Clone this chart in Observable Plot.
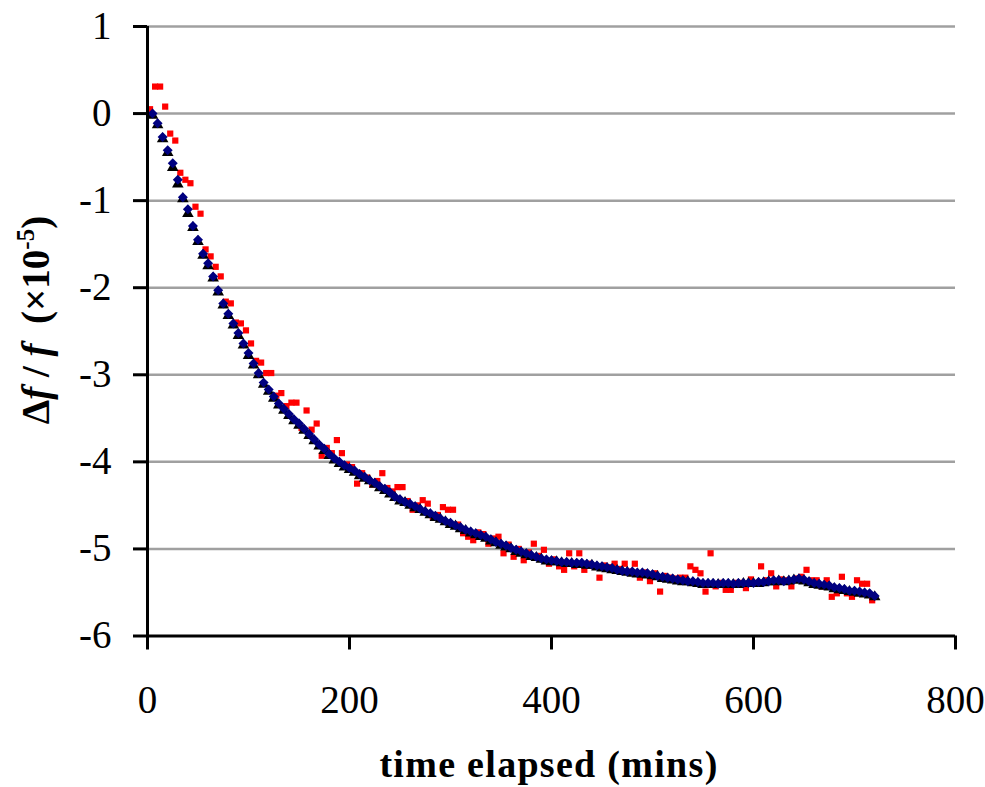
<!DOCTYPE html>
<html><head><meta charset="utf-8">
<script src="https://cdn.jsdelivr.net/npm/d3@7"></script>
<script src="https://cdn.jsdelivr.net/npm/@observablehq/plot@0.6"></script>
<style>body{margin:0;background:#fff} svg{display:block}</style>
</head><body><div id="chart"></div>
<script>
// time (mins) of the smoothed series (blue diamonds, black triangles)
const smoothTimes = d3.range(5, 721, 5);
const blueValues = [
0.00,-0.11,-0.27,-0.42,-0.57,-0.76,-0.96,-1.10,-1.29,-1.45,
-1.61,-1.72,-1.87,-2.03,-2.18,-2.30,-2.41,-2.52,-2.64,-2.75,
-2.87,-2.98,-3.09,-3.17,-3.25,-3.33,-3.39,-3.45,-3.51,-3.56,
-3.62,-3.68,-3.74,-3.80,-3.85,-3.91,-3.96,-4.00,-4.04,-4.07,
-4.10,-4.14,-4.17,-4.21,-4.24,-4.28,-4.31,-4.35,-4.40,-4.43,
-4.46,-4.48,-4.51,-4.54,-4.57,-4.59,-4.62,-4.65,-4.68,-4.70,
-4.73,-4.75,-4.78,-4.80,-4.82,-4.84,-4.86,-4.89,-4.92,-4.94,
-4.96,-4.99,-5.01,-5.03,-5.05,-5.07,-5.09,-5.11,-5.12,-5.13,
-5.14,-5.15,-5.15,-5.16,-5.16,-5.16,-5.17,-5.18,-5.19,-5.20,
-5.21,-5.22,-5.24,-5.25,-5.26,-5.26,-5.27,-5.27,-5.28,-5.29,
-5.31,-5.32,-5.33,-5.34,-5.35,-5.36,-5.37,-5.37,-5.38,-5.39,
-5.39,-5.39,-5.40,-5.39,-5.39,-5.40,-5.39,-5.39,-5.39,-5.39,
-5.38,-5.38,-5.37,-5.36,-5.36,-5.37,-5.36,-5.35,-5.34,-5.35,
-5.37,-5.39,-5.40,-5.41,-5.42,-5.44,-5.45,-5.46,-5.48,-5.48,
-5.49,-5.50,-5.51,-5.54];
const blackValues = [
-0.02,-0.13,-0.29,-0.45,-0.62,-0.81,-0.98,-1.15,-1.31,-1.47,
-1.63,-1.75,-1.89,-2.05,-2.20,-2.32,-2.43,-2.55,-2.66,-2.78,
-2.89,-3.00,-3.11,-3.19,-3.27,-3.35,-3.41,-3.47,-3.53,-3.58,
-3.64,-3.70,-3.76,-3.82,-3.87,-3.93,-3.98,-4.02,-4.06,-4.09,
-4.12,-4.16,-4.19,-4.22,-4.26,-4.30,-4.33,-4.37,-4.41,-4.45,
-4.47,-4.50,-4.53,-4.55,-4.58,-4.61,-4.64,-4.66,-4.69,-4.72,
-4.74,-4.77,-4.79,-4.82,-4.84,-4.86,-4.88,-4.91,-4.93,-4.96,
-4.98,-5.00,-5.03,-5.05,-5.07,-5.09,-5.10,-5.12,-5.14,-5.15,
-5.15,-5.16,-5.17,-5.17,-5.18,-5.18,-5.19,-5.19,-5.21,-5.22,
-5.23,-5.24,-5.25,-5.26,-5.27,-5.28,-5.29,-5.29,-5.30,-5.31,
-5.32,-5.34,-5.35,-5.36,-5.37,-5.38,-5.38,-5.39,-5.40,-5.41,
-5.41,-5.41,-5.41,-5.41,-5.41,-5.41,-5.41,-5.40,-5.40,-5.40,
-5.40,-5.39,-5.38,-5.38,-5.37,-5.38,-5.37,-5.36,-5.36,-5.37,
-5.39,-5.41,-5.42,-5.43,-5.44,-5.46,-5.47,-5.48,-5.49,-5.50,
-5.51,-5.52,-5.53,-5.55];
// raw series (red squares)
const rawTimes = d3.range(2.5, 720, 5);
const redValues = [
0.05,0.31,0.31,0.08,-0.23,-0.31,-0.68,-0.76,-0.80,-1.07,
-1.15,-1.56,-1.64,-1.76,-1.87,-2.16,-2.18,-2.40,-2.41,-2.49,
-2.64,-2.84,-2.86,-2.98,-2.98,-3.24,-3.21,-3.36,-3.32,-3.32,
-3.61,-3.41,-3.63,-3.56,-3.93,-3.84,-3.90,-3.75,-3.90,-4.03,
-4.06,-4.25,-4.13,-4.18,-4.26,-4.22,-4.13,-4.30,-4.34,-4.29,
-4.29,-4.45,-4.55,-4.50,-4.44,-4.48,-4.63,-4.61,-4.52,-4.55,
-4.55,-4.72,-4.82,-4.86,-4.90,-4.81,-4.83,-4.94,-4.88,-4.86,
-5.05,-4.95,-5.09,-5.00,-5.13,-5.04,-4.94,-5.08,-5.01,-5.17,
-5.12,-5.20,-5.24,-5.05,-5.20,-5.05,-5.24,-5.17,-5.20,-5.33,
-5.19,-5.21,-5.17,-5.23,-5.17,-5.26,-5.17,-5.33,-5.27,-5.37,
-5.28,-5.49,-5.31,-5.33,-5.34,-5.33,-5.33,-5.20,-5.24,-5.28,
-5.49,-5.05,-5.43,-5.39,-5.47,-5.47,-5.39,-5.39,-5.45,-5.35,
-5.39,-5.20,-5.36,-5.28,-5.43,-5.35,-5.36,-5.43,-5.34,-5.32,
-5.24,-5.36,-5.36,-5.43,-5.36,-5.55,-5.51,-5.32,-5.51,-5.55,
-5.36,-5.40,-5.40,-5.59];
const xTicks = [0, 200, 400, 600, 800];
const yTicks = [1, 0, -1, -2, -3, -4, -5, -6];
const xLabel = "time elapsed (mins)";

const blue = smoothTimes.map((t, i) => ({t, v: blueValues[i]}));
const black = smoothTimes.map((t, i) => ({t, v: blackValues[i]}));
const red = rawTimes.map((t, i) => ({t, v: redValues[i]}));

const serif = "'Liberation Serif', 'Times New Roman', serif";
const svg = Plot.plot({
  width: 985, height: 787,
  marginLeft: 147, marginRight: 30, marginTop: 26, marginBottom: 151.5,
  style: {fontFamily: serif, fontSize: "39px", color: "#000", background: "#fff", overflow: "visible"},
  x: {domain: [0, 800]},
  y: {domain: [-6, 1]},
  marks: [
    Plot.ruleY(yTicks.filter(d => d > -6), {stroke: "#a0a0a0", strokeWidth: 2.5}),
    Plot.dot(red, {x: "t", y: "v", symbol: "square", r: 3.5, fill: "#ff0000", stroke: null}),
    Plot.dot(black, {x: "t", y: "v", symbol: "triangle", r: 4.3, fill: "#000000", stroke: null}),
    Plot.dot(blue, {x: "t", y: "v", symbol: "diamond2", r: 4.5, fill: "#000080", stroke: null}),
    Plot.ruleX([0], {stroke: "#000", strokeWidth: 3}),
    Plot.ruleY([-6], {stroke: "#000", strokeWidth: 3}),
    Plot.axisX(xTicks, {tickSize: 14, tickPadding: 35, strokeWidth: 3, label: null, fontSize: 39, tickFormat: d => String(d)}),
    Plot.axisY(yTicks, {tickSize: 14, tickPadding: 22, strokeWidth: 3, label: null, fontSize: 39, tickFormat: d => String(d)})
  ]
});
document.getElementById("chart").appendChild(svg);

const s = d3.select(svg);
s.append("text")
  .attr("x", 549).attr("y", 777)
  .attr("text-anchor", "middle")
  .attr("font-family", serif).attr("font-weight", "bold")
  .attr("font-size", 38).attr("letter-spacing", "1.3px")
  .attr("fill", "#000")
  .text(xLabel);

const yl = s.append("text")
  .attr("transform", "translate(49,320) rotate(-90)")
  .attr("text-anchor", "middle")
  .attr("font-family", serif).attr("font-weight", "bold")
  .attr("font-size", 39).attr("fill", "#000")
  .style("white-space", "pre");
yl.append("tspan").text("\u0394");
yl.append("tspan").attr("font-style", "italic").text("f");
yl.append("tspan").text(" / ");
yl.append("tspan").attr("font-style", "italic").text("f");
yl.append("tspan").text("  (\u00d710");
yl.append("tspan").attr("font-size", 25).attr("dy", -15).text("-5");
yl.append("tspan").attr("dy", 15).text(")");
</script>
</body></html>
